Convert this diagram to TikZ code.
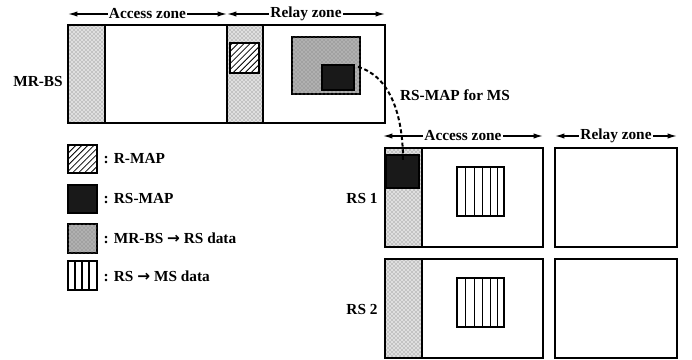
\documentclass[tikz,border=0pt]{standalone}
\usepackage{fontspec}
\setmainfont{Liberation Serif}
\newfontfamily\arrowfont{DejaVu Sans}
\usetikzlibrary{arrows.meta,patterns,patterns.meta,positioning}
\newcommand{\bigarrow}{{\arrowfont\bfseries →}}
\tikzset{frame/.style={draw=black,line width=1.6pt},
 stripfill/.style={fill=gray!25,postaction={pattern=crosshatch dots,pattern color=black!60}},
 relaydata/.style={draw=black,line width=1.3pt,fill=gray!62,postaction={pattern=crosshatch dots,pattern color=black!55}},
 rsmap/.style={draw=black,line width=1.3pt,fill=black!90},
 rmap/.style={draw=black,line width=1.5pt,fill=white,postaction={pattern={Lines[angle=45,distance=3.2pt,line width=.6pt]}}},
 msdata/.style={draw=black,line width=1.5pt,fill=white},
 zonearrow/.style={line width=1pt,{Latex[length=7pt,width=4pt]}-{Latex[length=7pt,width=4pt]}},
 zonetext/.style={fill=white,inner sep=1pt,font=\fontsize{11.5}{13}\selectfont\bfseries},
 lbl/.style={font=\fontsize{11.5}{13}\selectfont\bfseries},
 maplink/.style={line width=1.5pt,dash pattern=on 3pt off 2pt}}
\begin{document}
\begin{tikzpicture}[x=0.75pt,y=-0.75pt]
\useasboundingbox (0,0) rectangle (692,360);
% MR-BS frame
\fill[stripfill] (68,25) rectangle (105,123);
\fill[stripfill] (227,25) rectangle (263,123);
\draw[frame] (68,25) rectangle (385,123);
\draw[frame] (105,25) -- (105,123);
\draw[frame] (227,25) -- (227,123);
\draw[frame] (263,25) -- (263,123);
\draw[rmap] (230,43) rectangle (259,73);
\draw[relaydata] (292,37) rectangle (360,94);
\draw[rsmap] (322,65) rectangle (354,90);
\coordinate (bsmap) at (358,67);
\node[lbl] (bs) at (38,81) {MR-BS};
% zones of MR-BS
\coordinate (ba) at (68,14); \coordinate (bb) at (227,14); \coordinate (bc) at (385,14);
\draw[zonearrow] (ba) -- node[zonetext] (bsacc) {Access zone} (bb);
\draw[zonearrow] (bb) -- node[zonetext] (bsrel) {Relay zone} (bc);
% RS 1 and RS 2
\foreach \t/\nm in {148/RS 1,259/RS 2}{
 \fill[stripfill] (385,\t) rectangle (422,\t+99);
 \draw[frame] (385,\t) rectangle (543,\t+99);
 \draw[frame] (422,\t) -- (422,\t+99);
 \draw[frame] (555,\t) rectangle (677,\t+99);
 \draw[msdata] (457,\t+19) rectangle (504,\t+68);
 \foreach \v in {465,474,482,490,497} \draw[line width=.7pt] (\v,\t+19) -- (\v,\t+68);
 \node[lbl] at (362,\t+50) {\nm};
}
\draw[rsmap] (386,155) rectangle (419,188);
\coordinate (rsmap) at (403,160);
% zones of RS
\coordinate (ra) at (383,136); \coordinate (rb) at (543,136);
\coordinate (rc) at (555,136); \coordinate (rd) at (677,136);
\draw[zonearrow] (ra) -- node[zonetext] (rsacc) {Access zone} (rb);
\draw[zonearrow] (rc) -- node[zonetext] (rsrel) {Relay zone} (rd);
% RS-MAP for MS
\draw[maplink] (bsmap) .. controls (390,76) and (403,115) .. (rsmap);
\node[lbl] (mapnote) at (455,95) {RS-MAP for MS};
% legend
\draw[rmap] (68,145) rectangle (97,173);
\draw[rsmap] (68,185) rectangle (97,213);
\draw[relaydata] (68,224) rectangle (97,253);
\draw[msdata] (68,261) rectangle (97,290);
\foreach \v in {75,82,89} \draw[line width=.8pt] (\v,261) -- (\v,290);
\node[lbl,anchor=west] (k1) at (99,159) {: R-MAP};
\node[lbl,anchor=west] (k2) at (99,199) {: RS-MAP};
\node[lbl,anchor=west] (k3) at (99,238) {: MR-BS \bigarrow{} RS data};
\node[lbl,anchor=west] (k4) at (99,276) {: RS \bigarrow{} MS data};
\end{tikzpicture}
\end{document}
